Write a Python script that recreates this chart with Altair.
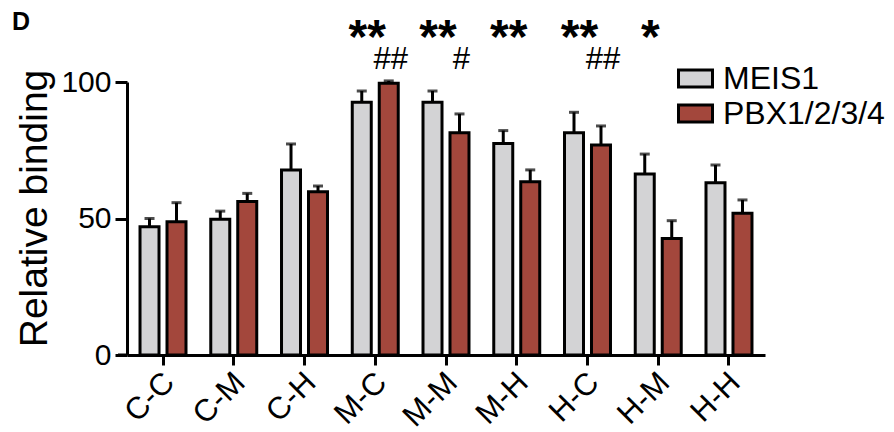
import altair as alt
import pandas as pd

categories = ["C-C", "C-M", "C-H", "M-C", "M-M", "M-H", "H-C", "H-M", "H-H"]
groups = ["MEIS1", "PBX1/2/3/4"]
meis1_mean = [47.0, 49.7, 67.8, 92.6, 92.6, 77.5, 81.4, 66.3, 63.1]
meis1_err = [3.0, 3.0, 9.5, 4.1, 4.1, 4.7, 7.5, 7.3, 6.5]
pbx_mean = [48.8, 56.2, 59.8, 99.5, 81.4, 63.5, 76.9, 42.7, 51.9]
pbx_err = [7.0, 3.0, 2.1, 0.9, 6.9, 4.3, 7.0, 6.5, 4.9]
stars = ["", "", "", "**", "**", "**", "**", "*", ""]
hashes = ["", "", "", "##", "#", "", "##", "", ""]
colors = ["#d3d3d5", "#a3473c"]
y_ticks = [0, 50, 100]

rows = []
for i, c in enumerate(categories):
    rows.append({"category": c, "group": groups[0], "mean": meis1_mean[i], "upper": meis1_mean[i] + meis1_err[i]})
    rows.append({"category": c, "group": groups[1], "mean": pbx_mean[i], "upper": pbx_mean[i] + pbx_err[i]})
df = pd.DataFrame(rows)
star_df = pd.DataFrame({"category": categories, "label": stars})
star_df = star_df[star_df["label"] != ""]
hash_df = pd.DataFrame({"category": categories, "label": hashes, "group": groups[1]})
hash_df = hash_df[hash_df["label"] != ""]

W, H = 638, 273
FONT = "Liberation Sans"

x_enc = alt.X("category:N", sort=categories,
              scale=alt.Scale(paddingInner=0.35, paddingOuter=0.184),
              axis=alt.Axis(title=None, labelAngle=-45, labelFontSize=31, labelAlign="right",
                            labelBaseline="top", labelPadding=2, labelOffset=-4, tickSize=10,
                            tickWidth=3, domainWidth=3, labelFont=FONT))
xo_enc = alt.XOffset("group:N", sort=groups,
                     scale=alt.Scale(paddingInner=0.296, paddingOuter=0))
y_scale = alt.Scale(domain=[0, 100], nice=False)

base = alt.Chart(df)

err = base.mark_rule(color="black", strokeWidth=3).encode(
    x=x_enc, xOffset=xo_enc,
    y=alt.Y("mean:Q", scale=y_scale), y2="upper:Q")
cap = base.mark_tick(color="black", size=10, thickness=3).encode(
    x=x_enc, xOffset=xo_enc, y=alt.Y("upper:Q", scale=y_scale))
bars = base.mark_bar(stroke="black", strokeWidth=3).encode(
    x=x_enc, xOffset=xo_enc,
    y=alt.Y("mean:Q", scale=y_scale,
            axis=alt.Axis(values=y_ticks, title="Relative binding", titleFontSize=39,
                          titleFontWeight="normal", titleX=-73, titleY=126,
                          titleAngle=270, titleAlign="center", titleBaseline="bottom",
                          labelFontSize=30,
                          tickSize=12, tickWidth=3, domainWidth=3, labelPadding=4,
                          grid=False, labelFont=FONT, titleFont=FONT)),
    color=alt.Color("group:N", sort=groups,
                    scale=alt.Scale(domain=groups, range=colors),
                    legend=alt.Legend(title=None, orient="none", legendX=550, legendY=-22,
                                      symbolType="M-1,-0.5H1V0.5H-1Z", symbolSize=1156,
                                      symbolStrokeColor="black", symbolStrokeWidth=3,
                                      labelFontSize=32, labelFont=FONT, labelOffset=9,
                                      labelLimit=0, rowPadding=0, labelColor="black")))

star_text = alt.Chart(star_df).mark_text(fontSize=48, fontWeight="bold", font=FONT, dx=-8,
                                         baseline="alphabetic", color="black").encode(
    x=x_enc, y=alt.value(-29), text="label:N")
hash_text = alt.Chart(hash_df).mark_text(fontSize=31, font=FONT, dx=2,
                                         baseline="alphabetic", color="black").encode(
    x=x_enc, xOffset=xo_enc, y=alt.value(-13), text="label:N")
panel = alt.Chart(pd.DataFrame({"t": ["D"]})).mark_text(
    fontSize=25, fontWeight="bold", font=FONT, align="left", baseline="alphabetic",
    color="black").encode(x=alt.value(-115), y=alt.value(-52), text="t:N")
axis_ext = alt.Chart(pd.DataFrame({"t": [0]})).mark_rule(color="black", strokeWidth=3).encode(
    x=alt.value(-9), x2=alt.value(0), y=alt.value(H))

chart = alt.layer(err, cap, bars, star_text, hash_text, panel, axis_ext).properties(
    width=W, height=H,
    autosize=alt.AutoSizeParams(type="none"),
    padding={"left": 119, "top": 74, "right": 121, "bottom": 85},
).configure_view(stroke=None).configure_axis(
    domainColor="black", tickColor="black", labelColor="black", titleColor="black")

chart.save("out.html", embed_options={"renderer": "svg", "actions": False})
